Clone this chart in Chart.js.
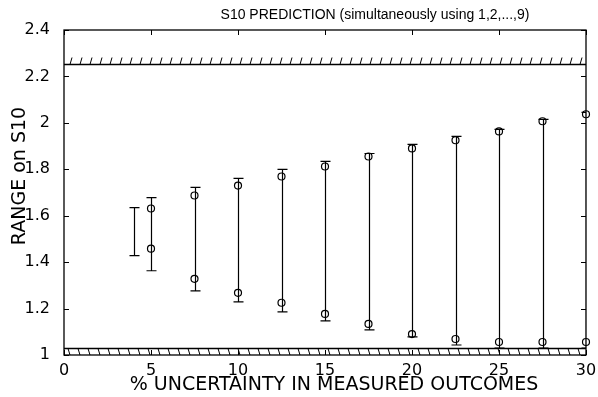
<!DOCTYPE html>
<html>
<head>
<meta charset="utf-8">
<script src="https://cdn.jsdelivr.net/npm/chart.js@4/dist/chart.umd.min.js"></script>
<style>
  body { margin: 0; background: #fff; }
  canvas { display: block; }
</style>
</head>
<body>
<canvas id="myChart" width="598" height="397"></canvas>
<script>
// percent uncertainty for each prediction
var uncertainty = [4, 5, 7.5, 10, 12.5, 15, 17.5, 20, 22.5, 25, 27.5, 30];
// ends of the bars (the capped limits)
var barHigh = [1.635, 1.678, 1.722, 1.761, 1.80, 1.834, 1.868, 1.907, 1.942, 1.972, 2.015, 2.045];
var barLow  = [1.428, 1.363, 1.276, 1.229, 1.186, 1.147, 1.108, 1.078, 1.043, 1.03, 1.03, 1.03];
// circled values inside the bars
var circleHigh = [null, 1.631, 1.687, 1.730, 1.769, 1.812, 1.855, 1.890, 1.925, 1.963, 2.007, 2.037];
var circleLow  = [null, 1.458, 1.328, 1.268, 1.225, 1.177, 1.134, 1.090, 1.069, 1.056, 1.056, 1.056];
// feasible limits of S10 (hatched lines)
var upperLimit = 2.255;
var lowerLimit = 1.03;

var xTicks = [0, 5, 10, 15, 20, 25, 30];
var yTicks = [1, 1.2, 1.4, 1.6, 1.8, 2, 2.2, 2.4];

var titleText = 'S10 PREDICTION (simultaneously using 1,2,...,9)';
var xTitleText = '% UNCERTAINTY IN MEASURED OUTCOMES';
var yTitleText = 'RANGE on S10';

var arialFont = '"Liberation Sans", Arial, Helvetica, sans-serif';
var wideFont = '"DejaVu Sans", Verdana, sans-serif';

function toPoints(vals) {
    var pts = [];
    for (var i = 0; i < uncertainty.length; i++) {
        if (vals[i] !== null) pts.push({x: uncertainty[i], y: vals[i]});
    }
    return pts;
}

var circleStyle = {
    type: 'scatter',
    pointStyle: 'circle',
    pointRadius: 3.5,
    pointBorderColor: '#000',
    pointBackgroundColor: 'rgba(0,0,0,0)',
    pointBorderWidth: 1.2,
    showLine: false,
    clip: false
};

var chartData = {
    datasets: [
        Object.assign({label: 'high', data: toPoints(circleHigh)}, circleStyle),
        Object.assign({label: 'low', data: toPoints(circleLow)}, circleStyle)
    ]
};

// draws frame, inward ticks, hatched limits and the range bars
var framePlugin = {
    id: 'frame',
    beforeDatasetsDraw: function(chart) {
        var ctx = chart.ctx, a = chart.chartArea;
        var xs = chart.scales.x, ys = chart.scales.y;
        ctx.save();
        ctx.strokeStyle = '#000';
        ctx.lineWidth = 1.3;
        ctx.strokeRect(a.left, a.top, a.right - a.left, a.bottom - a.top);

        ctx.lineWidth = 1;
        ctx.beginPath();
        xTicks.forEach(function(v) {
            var px = Math.round(xs.getPixelForValue(v)) + 0.5;
            ctx.moveTo(px, a.bottom); ctx.lineTo(px, a.bottom - 5);
            ctx.moveTo(px, a.top); ctx.lineTo(px, a.top + 5);
        });
        yTicks.forEach(function(v) {
            var py = Math.round(ys.getPixelForValue(v)) + 0.5;
            ctx.moveTo(a.left, py); ctx.lineTo(a.left + 5, py);
            ctx.moveTo(a.right, py); ctx.lineTo(a.right - 5, py);
        });
        ctx.stroke();

        // upper limit with hatches above it
        var up = Math.round(ys.getPixelForValue(upperLimit)) + 0.5;
        ctx.lineWidth = 1.3;
        ctx.beginPath();
        ctx.moveTo(a.left, up); ctx.lineTo(a.right, up);
        ctx.stroke();
        ctx.lineWidth = 1;
        ctx.beginPath();
        for (var hx = a.left + 6; hx < a.right - 4; hx += 10) {
            ctx.moveTo(hx, up); ctx.lineTo(hx + 2, up - 7);
        }
        ctx.stroke();

        // lower limit with hatches below it
        var lo = Math.round(ys.getPixelForValue(lowerLimit)) + 0.5;
        ctx.lineWidth = 1.3;
        ctx.beginPath();
        ctx.moveTo(a.left, lo); ctx.lineTo(a.right, lo);
        ctx.stroke();
        ctx.lineWidth = 1;
        ctx.beginPath();
        for (var lx = a.left + 4; lx < a.right - 4; lx += 10) {
            ctx.moveTo(lx, lo); ctx.lineTo(lx + 2, a.bottom);
        }
        ctx.stroke();

        // range bars, clipped to the frame
        ctx.beginPath();
        ctx.rect(a.left, a.top, a.right - a.left, a.bottom - a.top);
        ctx.clip();
        ctx.lineWidth = 1.2;
        ctx.beginPath();
        for (var i = 0; i < uncertainty.length; i++) {
            var px = Math.round(xs.getPixelForValue(uncertainty[i])) + 0.5;
            var top = ys.getPixelForValue(barHigh[i]);
            var bot = ys.getPixelForValue(barLow[i]);
            ctx.moveTo(px, top); ctx.lineTo(px, bot);
            ctx.moveTo(px - 5, top); ctx.lineTo(px + 5, top);
            ctx.moveTo(px - 5, bot); ctx.lineTo(px + 5, bot);
        }
        ctx.stroke();
        ctx.restore();
    },
    afterDraw: function(chart) {
        var ctx = chart.ctx;
        ctx.save();
        ctx.fillStyle = '#000';
        ctx.textAlign = 'center';
        ctx.textBaseline = 'middle';
        ctx.font = '14px ' + arialFont;
        ctx.fillText(titleText, 375, 15);
        ctx.font = '19px ' + wideFont;
        ctx.fillText(xTitleText, 334, 385);
        ctx.translate(20, 176);
        ctx.rotate(-Math.PI / 2);
        ctx.font = '19px ' + wideFont;
        ctx.fillText(yTitleText, 0, 0);
        ctx.restore();
    }
};

var chartOptions = {
    responsive: false,
    animation: false,
    devicePixelRatio: 1,
    layout: { padding: { left: 0, right: 12, top: 30, bottom: 0 } },
    plugins: {
        legend: { display: false },
        tooltip: { enabled: false },
        title: { display: false }
    },
    scales: {
        x: {
            type: 'linear',
            min: 0, max: 30,
            afterBuildTicks: function(s) { s.ticks = xTicks.map(function(v) { return {value: v}; }); },
            afterFit: function(s) { s.height = 42; },
            grid: { display: false },
            border: { display: false },
            ticks: { color: '#000', font: { family: wideFont, size: 16 }, padding: -2, maxRotation: 0 }
        },
        y: {
            min: 1, max: 2.4,
            afterBuildTicks: function(s) { s.ticks = yTicks.map(function(v) { return {value: v}; }); },
            afterFit: function(s) { s.width = 64; },
            grid: { display: false },
            border: { display: false },
            ticks: {
                color: '#000', font: { family: wideFont, size: 16 }, padding: 6,
                callback: function(v) { return String(+v.toFixed(1)); }
            }
        }
    }
};

var element = document.getElementById('myChart').getContext('2d');
var chart = new Chart(element, {type: 'scatter', data: chartData, options: chartOptions, plugins: [framePlugin]});
</script>
</body>
</html>
